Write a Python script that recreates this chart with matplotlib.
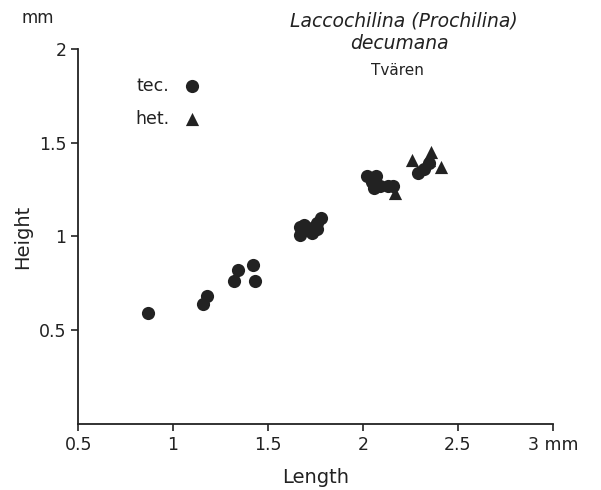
import matplotlib
matplotlib.use("Agg")
import matplotlib.pyplot as plt

# tec. (circles)
tec_len = [0.87, 1.16, 1.18, 1.32, 1.34, 1.42, 1.43,
           1.67, 1.70, 1.74, 1.69, 1.76, 1.78, 1.67, 1.73, 1.76,
           2.02, 2.07, 2.05, 2.09, 2.13, 2.16, 2.06,
           2.29, 2.32, 2.35]
tec_hgt = [0.59, 0.64, 0.68, 0.76, 0.82, 0.85, 0.76,
           1.05, 1.04, 1.05, 1.06, 1.07, 1.10, 1.01, 1.02, 1.04,
           1.32, 1.32, 1.29, 1.27, 1.27, 1.27, 1.26,
           1.34, 1.36, 1.39]
# het. (triangles)
het_len = [2.17, 2.26, 2.36, 2.41, 2.35]
het_hgt = [1.23, 1.41, 1.45, 1.37, 1.41]

xticks = [0.5, 1, 1.5, 2, 2.5, 3]
xlabels = ["0.5", "1", "1.5", "2", "2.5", "3 mm"]
yticks = [0.5, 1, 1.5, 2]
ylabels = ["0.5", "1", "1.5", "2"]

plt.rcParams['font.family'] = ['DejaVu Sans']
fig = plt.figure(figsize=(6.01, 4.90), dpi=100)
ax = fig.add_axes([0.130, 0.135, 0.790, 0.765])

ax.scatter(tec_len, tec_hgt, s=90, marker="o", color="#222222", linewidths=0)
ax.scatter(het_len, het_hgt, s=90, marker="^", color="#222222", linewidths=0)

ax.set_xlim(0.5, 3)
ax.set_ylim(0, 2)
ax.set_xticks(xticks)
ax.set_xticklabels(xlabels)
ax.set_yticks(yticks)
ax.set_yticklabels(ylabels)
ax.tick_params(labelsize=12.5, length=5, width=1.2, color="#222222", labelcolor="#222222")
for s in ["top", "right"]:
    ax.spines[s].set_visible(False)
for s in ["left", "bottom"]:
    ax.spines[s].set_linewidth(1.3)
    ax.spines[s].set_color("#222222")

ax.set_xlabel("Length", fontsize=14, color="#222222", labelpad=10)
ax.set_ylabel("Height", fontsize=14, color="#222222")
ax.yaxis.set_label_coords(-0.097, 0.5)

fig.text(0.063, 0.963, "mm", fontsize=12, color="#222222", ha="center", va="center")
fig.text(0.672, 0.957, "Laccochilina (Prochilina)", fontsize=13.5, style="italic",
         color="#222222", ha="center", va="center")
fig.text(0.665, 0.912, "decumana", fontsize=13.5, style="italic",
         color="#222222", ha="center", va="center")
fig.text(0.662, 0.857, "Tvären", fontsize=11, color="#222222", ha="center", va="center")

# legend
fig.text(0.282, 0.824, "tec.", fontsize=12.5, color="#222222", ha="right", va="center")
fig.text(0.282, 0.757, "het.", fontsize=12.5, color="#222222", ha="right", va="center")
ax.scatter([1.1], [1.8], s=90, marker="o", color="#222222", linewidths=0)
ax.scatter([1.1], [1.625], s=90, marker="^", color="#222222", linewidths=0)

fig.savefig("out.png", dpi=100, facecolor="white")
